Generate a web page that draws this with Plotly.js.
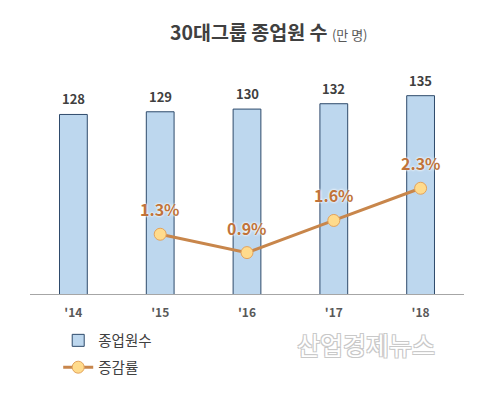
<!DOCTYPE html>
<html>
<head>
<meta charset="utf-8">
<script src="https://cdn.plot.ly/plotly-3.0.1.min.js"></script>
<style>html,body{margin:0;padding:0;background:#fff;}#chart{width:480px;height:396px;}</style>
</head>
<body>
<div id="chart"></div>
<script>
var years = ["'14", "'15", "'16", "'17", "'18"];
var employees = [128, 129, 130, 132, 135];
var growthYears = ["'15", "'16", "'17", "'18"];
var growthRate = [1.3, 0.9, 1.6, 2.3];

var FONT = "'Noto Sans CJK KR', 'Noto Sans', sans-serif";

var barTrace = {
  type: 'bar', x: years, y: employees, name: '종업원수', legendgroup: 'a',
  marker: {color: '#BDD7EE', line: {color: '#2E4A6B', width: 1}},
  hoverinfo: 'skip'
};
var lineTrace = {
  type: 'scatter', mode: 'lines+markers', x: growthYears, y: growthRate, yaxis: 'y2',
  name: '증감률', legendgroup: 'b',
  line: {color: '#C8864B', width: 3},
  marker: {size: 12, color: '#FFDB8C', line: {color: '#E3A35C', width: 1}},
  hoverinfo: 'skip'
};

var annotations = [];
for (var i = 0; i < years.length; i++) {
  annotations.push({x: years[i], y: employees[i], xref: 'x', yref: 'y', text: String(employees[i]),
    showarrow: false, yanchor: 'bottom', yshift: 4,
    font: {family: FONT, size: 13, color: '#404040', weight: 'bold'}});
}
for (var j = 0; j < growthYears.length; j++) {
  annotations.push({x: growthYears[j], y: growthRate[j], xref: 'x', yref: 'y2', text: growthRate[j].toFixed(1) + '%',
    showarrow: false, yanchor: 'bottom', yshift: 11,
    font: {family: FONT, size: 16, color: '#C0733A', weight: 'bold',
      shadow: '0 0 2px #fff, 0 0 3px #fff'}});
}
annotations.push({xref: 'paper', yref: 'paper', x: 0.774, y: -0.215, xanchor: 'center', yanchor: 'middle',
  text: '산업경제뉴스', showarrow: false,
  font: {family: FONT, size: 25, color: '#ffffff', weight: 'normal',
    shadow: '-1px -1px 0 #c8c8c8, 1px -1px 0 #c8c8c8, -1px 1px 0 #c8c8c8, 1px 1px 0 #c8c8c8'}});

var layout = {
  width: 480, height: 396,
  margin: {l: 30, r: 16, t: 60, b: 102},
  paper_bgcolor: '#ffffff', plot_bgcolor: '#ffffff',
  font: {family: FONT},
  title: {text: '<b>30대그룹 종업원 수</b> <span style="font-size:13px;color:#595959">(만 명)</span>',
    font: {family: FONT, size: 19.5, color: '#404040'},
    x: 0.56, xref: 'container', xanchor: 'center', y: 0.915, yref: 'container', yanchor: 'middle'},
  bargap: 0.68,
  xaxis: {type: 'category', categoryorder: 'array', categoryarray: years, range: [-0.5, 4.5],
    showline: true, linecolor: '#A6A6A6', linewidth: 1, ticks: '', showgrid: false, zeroline: false,
    tickfont: {family: FONT, size: 12, color: '#595959', weight: 'bold'}, ticklabelstandoff: 8},
  yaxis: {range: [61.07, 148.3], visible: false, showgrid: false, zeroline: false, fixedrange: true},
  yaxis2: {range: [0, 5.09], overlaying: 'y', side: 'right', visible: false, showgrid: false, zeroline: false},
  showlegend: true,
  legend: {orientation: 'v', x: 0.065, xanchor: 'left', y: -0.13, yanchor: 'top',
    font: {family: FONT, size: 14.5, color: '#404040'}, tracegroupgap: 5, itemwidth: 30,
    bgcolor: 'rgba(0,0,0,0)'},
  annotations: annotations
};

Plotly.newPlot('chart', [barTrace, lineTrace], layout, {displayModeBar: false, staticPlot: true});
</script>
</body>
</html>
